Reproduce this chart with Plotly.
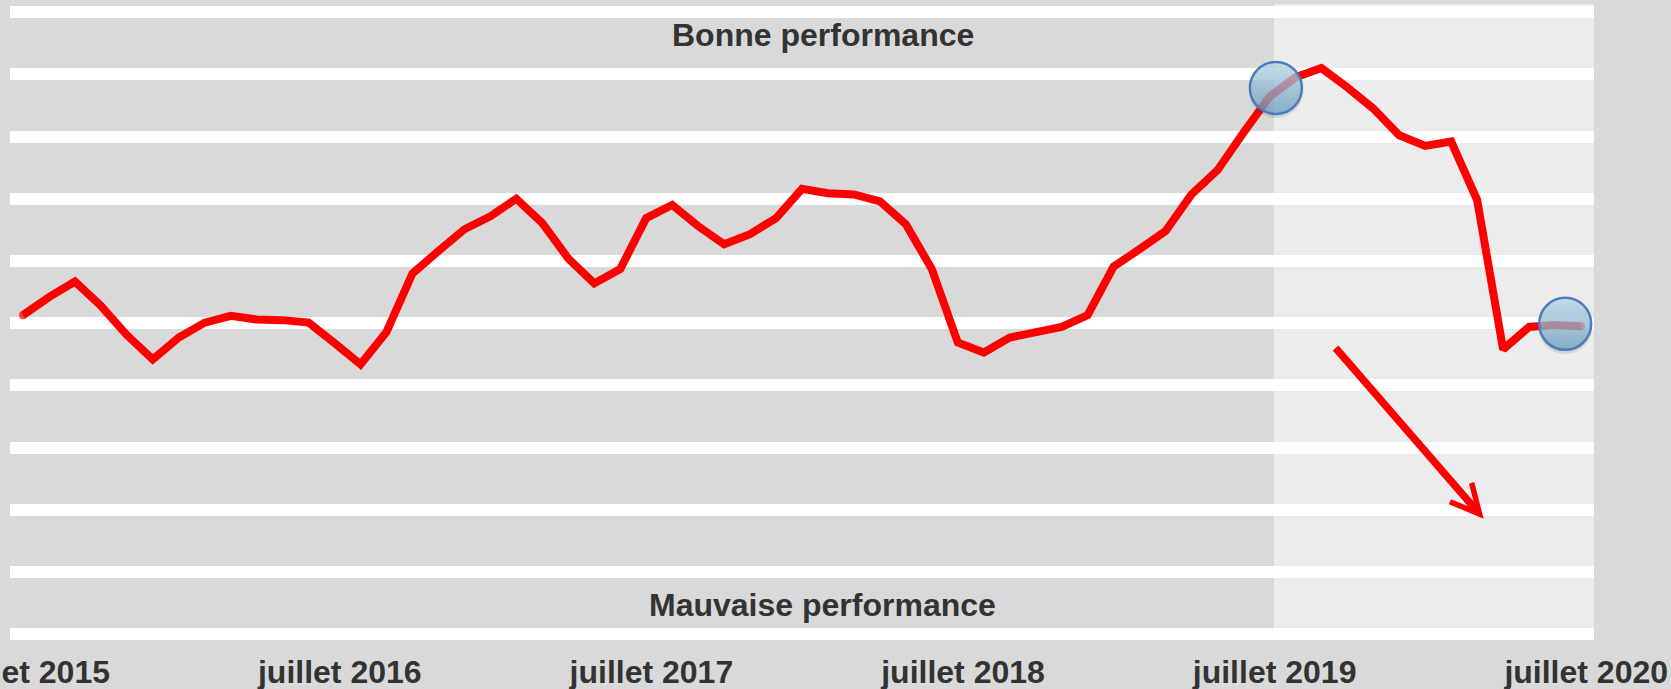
import plotly.graph_objects as go

months = list(range(61))
performance = [5.13, 5.42, 5.67, 5.28, 4.81, 4.42, 4.77, 5.01, 5.12, 5.06, 5.05, 5.01,
               4.68, 4.34, 4.86, 5.80, 6.16, 6.51, 6.72, 7.00, 6.61, 6.04, 5.64, 5.87,
               6.69, 6.90, 6.56, 6.27, 6.43, 6.69, 7.16, 7.09, 7.07, 6.96, 6.59, 5.87,
               4.69, 4.53, 4.77, 4.85, 4.94, 5.13, 5.91, 6.19, 6.48, 7.07, 7.46, 8.06,
               8.64, 8.95, 9.10, 8.79, 8.45, 8.02, 7.85, 7.92, 6.98, 4.58, 4.94, 4.97, 4.95]
tick_positions = [0.2, 12.2, 24.2, 36.2, 48.2, 60.2]
tick_labels = ["juillet 2015", "juillet 2016", "juillet 2017", "juillet 2018", "juillet 2019", "juillet 2020"]
grid_values = list(range(11))
circle_x = [48.25, 59.39]
circle_y = [8.78, 4.99]
shadow_y = [8.73, 4.94]

TEXT = "#333333"
fig = go.Figure()
fig.add_trace(go.Scatter(x=months, y=performance, mode="lines+markers",
                         line=dict(color="#ff0000", width=8),
                         marker=dict(color="#ff0000", size=[8] + [0] * 59 + [8], line=dict(width=0)),
                         hoverinfo="skip"))
fig.add_trace(go.Scatter(x=circle_x, y=shadow_y, mode="markers", hoverinfo="skip",
                         marker=dict(size=54, color="rgba(0,0,0,0.10)", line=dict(width=0))))
fig.add_trace(go.Scatter(x=circle_x, y=circle_y, mode="markers", hoverinfo="skip",
                         marker=dict(size=52, color="rgba(190,220,236,0.74)",
                                     gradient=dict(type="vertical", color="rgba(108,160,196,0.74)"),
                                     line=dict(color="#4a7ebb", width=2.5))))

fig.add_shape(type="rect", layer="below", x0=48.2, x1=60.46, y0=0, y1=10.13,
              xref="x", yref="y", fillcolor="#ececec", line=dict(color="#f2f2f2", width=1))

fig.add_annotation(x=56.25, y=1.86, ax=50.5, ay=4.625, xref="x", yref="y", axref="x", ayref="y",
                   text="", showarrow=True, arrowhead=5, arrowsize=0.75, arrowwidth=7.5, arrowcolor="#ff0000")
fig.add_annotation(x=30.8, y=9.63, xref="x", yref="y", text="<b>Bonne performance</b>", showarrow=False,
                   font=dict(size=32, color=TEXT, family="Liberation Sans"))
fig.add_annotation(x=30.8, y=0.47, xref="x", yref="y", text="<b>Mauvaise performance</b>", showarrow=False,
                   font=dict(size=32, color=TEXT, family="Liberation Sans"))

fig.update_layout(
    width=1671, height=689, autosize=False, showlegend=False,
    margin=dict(l=10, r=77, t=4, b=49, autoexpand=False),
    paper_bgcolor="#d9d9d9", plot_bgcolor="#d9d9d9",
    font=dict(family="Liberation Sans"),
    xaxis=dict(range=[-0.5, 60.5], tickmode="array", tickvals=tick_positions,
               ticktext=[f"<b>{t}</b>" for t in tick_labels], showgrid=False, zeroline=False,
               showline=False, ticks="outside", ticklen=4, tickcolor="rgba(0,0,0,0)",
               tickfont=dict(size=32, color=TEXT), ticklabeloverflow="allow", automargin=False),
    yaxis=dict(range=[-0.09, 10.13], tickmode="array", tickvals=grid_values, showticklabels=False,
               showgrid=True, gridcolor="#ffffff", gridwidth=12, zeroline=False, showline=False, ticks="",
               automargin=False),
)
fig.write_html("out.html", config={"displayModeBar": False},
               post_script="document.body.style.margin='0';document.body.style.overflow='hidden';document.documentElement.style.background='#d9d9d9';")
